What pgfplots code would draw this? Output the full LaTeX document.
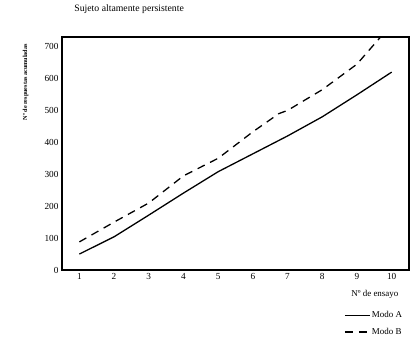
\documentclass[border=0pt]{standalone}
\usepackage{fontspec}
\setmainfont{Liberation Serif}
\usepackage{pgfplots}
\pgfplotsset{compat=1.18}
\begin{document}
\begin{tikzpicture}
\begin{axis}[
  scale only axis,
  width=347bp, height=233bp,
  xmin=0.5, xmax=10.5,
  ymin=0, ymax=730,
  xtick={1,...,10},
  ytick={0,100,...,700},
  major tick length=0pt,
  axis line style={line width=1.6pt},
  /pgf/number format/assume math mode=true,
  tick label style={font=\fontsize{9.3}{11}\selectfont},
  title={Sujeto altamente persistente},
  title style={at={(0.035,1.075)}, anchor=south west, font=\fontsize{9.8}{11}\selectfont, inner sep=0pt},
  xlabel={Nº de ensayo},
  xlabel style={at={(0.97,-0.085)}, anchor=north east, font=\fontsize{9}{10}\selectfont, inner sep=0pt},
  ylabel={Nº de respuestas acumuladas},
  ylabel style={at={(-0.105,0.97)}, anchor=east, font=\fontsize{6.2}{7}\selectfont\bfseries, inner sep=0pt},
  legend style={at={(0.985,-0.17)}, anchor=north east, draw=none, fill=none,
    font=\fontsize{9}{10}\selectfont, row sep=6pt, inner sep=0pt,
    nodes={inner sep=1.5pt}},
  legend cell align=left,
  legend image code/.code={\draw[#1] (0pt,0pt) -- (25pt,0pt);},
  clip=true,
]
\addplot[black, line width=1.3pt] coordinates {
(1,50) (2,104) (3,172) (4,241) (5,308) (6,364) (7,420) (8,480) (9,549) (10,620)};
\addlegendentry{Modo A}
\addplot[black, line width=1.3pt, dash pattern=on 8pt off 6pt] coordinates {
(1,88) (2,150) (3,210) (4,295) (5,350) (6,433) (6.75,490) (7,500) (8,565) (9,645) (10,770)};
\addlegendentry{Modo B}
\coordinate (bl) at (rel axis cs:-0.1787,-0.3133);
\coordinate (tr) at (rel axis cs:1.0086,1.1588);
\end{axis}
\path (bl) rectangle (tr);
\end{tikzpicture}
\end{document}
